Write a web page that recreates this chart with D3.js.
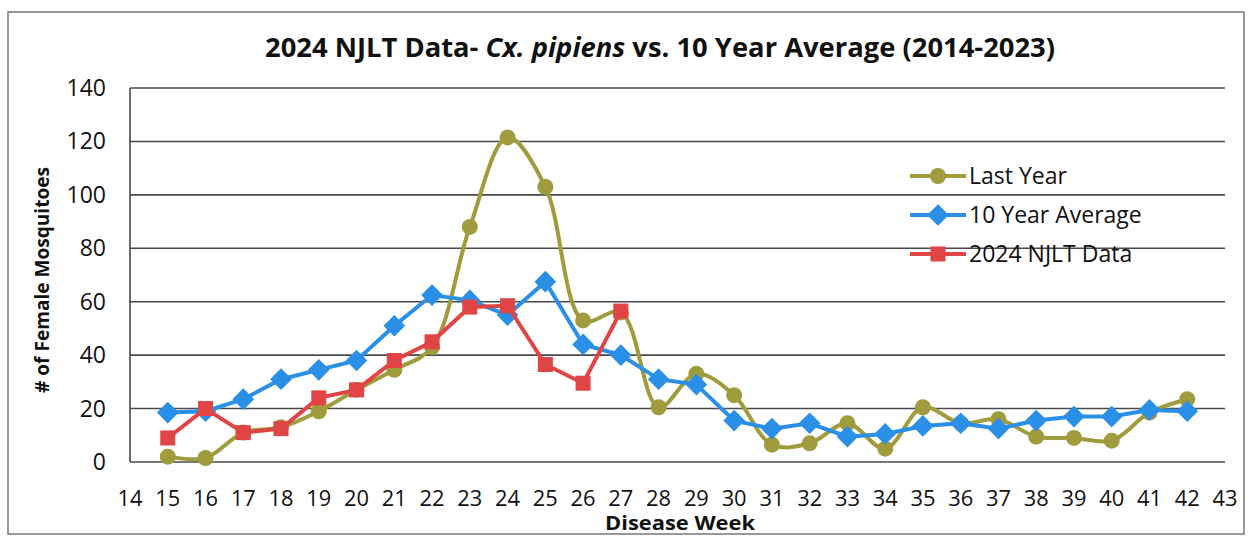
<!DOCTYPE html>
<html>
<head>
<meta charset="utf-8">
<script src="https://cdn.jsdelivr.net/npm/d3@7"></script>
<style>
  body { margin: 0; background: #fff; }
  svg { display: block; }
  text { font-family: "Open Sans", "Liberation Sans", sans-serif; fill: #111; }
</style>
</head>
<body>
<div id="chart"></div>
<script>
// disease weeks and series
var weeks = [15,16,17,18,19,20,21,22,23,24,25,26,27,28,29,30,31,32,33,34,35,36,37,38,39,40,41,42];
var lastYear = [2,1.5,11,13,19,27,34.5,43,88,121.5,103,53,56,20.5,33,25,6.5,7,14.5,5,20.5,14.5,16,9.5,9,8,18.5,23.5];
var tenYearAvg = [18.5,19,23.5,31,34.5,38,51,62.5,60.5,55,67.5,44,40,31,29,15.5,12.5,14.5,9.5,10.5,13.5,14.5,12.5,15.5,17,17,19.5,19];
var njlt2024 = [9,20,11,12.5,24,27,38,45,58,58.5,36.5,29.5,56.5];
var yTicks = [0,20,40,60,80,100,120,140];
var xTicks = d3.range(14, 44);

var W = 1254, H = 540;
var margin = {left: 130, right: 29, top: 88, bottom: 78};

var svg = d3.select('#chart').append('svg')
    .attr('width', W)
    .attr('height', H);

// outer chart frame
svg.append('rect')
    .attr('x', 8).attr('y', 12)
    .attr('width', 1236).attr('height', 522)
    .attr('fill', 'none')
    .attr('stroke', '#777')
    .attr('stroke-width', 1.5);

var x = d3.scaleLinear().domain([14, 43]).range([margin.left, W - margin.right]);
var y = d3.scaleLinear().domain([0, 140]).range([H - margin.bottom, margin.top]);

// gridlines
svg.append('g')
    .selectAll('line')
    .data(yTicks)
    .enter()
    .append('line')
      .attr('x1', x(14))
      .attr('x2', x(43))
      .attr('y1', d => y(d))
      .attr('y2', d => y(d))
      .attr('stroke', '#4a4a4a')
      .attr('stroke-width', 1.6);

svg.append('line')
    .attr('x1', x(14)).attr('x2', x(14))
    .attr('y1', y(0)).attr('y2', y(140))
    .attr('stroke', '#4a4a4a')
    .attr('stroke-width', 1.6);

// axis labels
svg.append('g')
    .selectAll('text')
    .data(yTicks)
    .enter()
    .append('text')
      .attr('x', 106)
      .attr('y', d => y(d) + 8)
      .attr('text-anchor', 'end')
      .style('font-size', '23px')
      .text(d => d);

svg.append('g')
    .selectAll('text')
    .data(xTicks)
    .enter()
    .append('text')
      .attr('x', d => x(d))
      .attr('y', 506)
      .attr('text-anchor', 'middle')
      .style('font-size', '22px')
      .attr('textLength', 25)
      .attr('lengthAdjust', 'spacingAndGlyphs')
      .text(d => d);

svg.append('text')
    .attr('x', 680).attr('y', 530)
    .attr('text-anchor', 'middle')
    .style('font-size', '19px')
    .style('font-weight', 'bold')
    .attr('textLength', 150)
    .attr('lengthAdjust', 'spacingAndGlyphs')
    .text('Disease Week');

svg.append('text')
    .attr('transform', 'translate(49,280) rotate(-90)')
    .attr('text-anchor', 'middle')
    .style('font-size', '20px')
    .style('font-weight', 'bold')
    .attr('textLength', 226)
    .attr('lengthAdjust', 'spacingAndGlyphs')
    .text('# of Female Mosquitoes');

// title
var title = svg.append('text')
    .attr('x', 660).attr('y', 57)
    .attr('text-anchor', 'middle')
    .style('font-size', '26px')
    .style('font-weight', 'bold')
    .attr('textLength', 790)
    .attr('lengthAdjust', 'spacingAndGlyphs');
title.append('tspan').text('2024 NJLT Data- ');
title.append('tspan').style('font-style', 'italic').text('Cx. pipiens');
title.append('tspan').text(' vs. 10 Year Average (2014-2023)');

// series
var series = [
  {name: 'Last Year', values: lastYear, color: '#a09b3c', shape: 'circle', curve: d3.curveCatmullRom.alpha(0.5)},
  {name: '10 Year Average', values: tenYearAvg, color: '#2a8fe6', shape: 'diamond', curve: d3.curveLinear},
  {name: '2024 NJLT Data', values: njlt2024, color: '#e04444', shape: 'square', curve: d3.curveLinear}
];

function marker(g, s, cx, cy) {
  if (s.shape == 'circle') {
    g.append('circle').attr('cx', cx).attr('cy', cy).attr('r', 8).attr('fill', s.color);
  } else if (s.shape == 'diamond') {
    g.append('path')
      .attr('d', d3.symbol().type(d3.symbolDiamond2).size(300)())
      .attr('transform', 'translate(' + cx + ',' + cy + ')')
      .attr('fill', s.color);
  } else {
    g.append('rect').attr('x', cx - 7.5).attr('y', cy - 7.5).attr('width', 15).attr('height', 15).attr('fill', s.color);
  }
}

series.forEach(function(s) {
  var pts = s.values.map((v, i) => [weeks[i], v]);
  var g = svg.append('g');
  g.append('path')
    .datum(pts)
    .attr('fill', 'none')
    .attr('stroke', s.color)
    .attr('stroke-width', 4)
    .attr('d', d3.line().x(d => x(d[0])).y(d => y(d[1])).curve(s.curve));
  pts.forEach(d => marker(g, s, x(d[0]), y(d[1])));
});

// legend
var leg = svg.append('g');
series.forEach(function(s, i) {
  var ly = 176 + i * 39;
  leg.append('line')
    .attr('x1', 910).attr('x2', 966)
    .attr('y1', ly).attr('y2', ly)
    .attr('stroke', s.color)
    .attr('stroke-width', 4);
  marker(leg, s, 938, ly);
  leg.append('text')
    .attr('x', 969).attr('y', ly + 8)
    .style('font-size', '23px')
    .text(s.name);
});
</script>
</body>
</html>
